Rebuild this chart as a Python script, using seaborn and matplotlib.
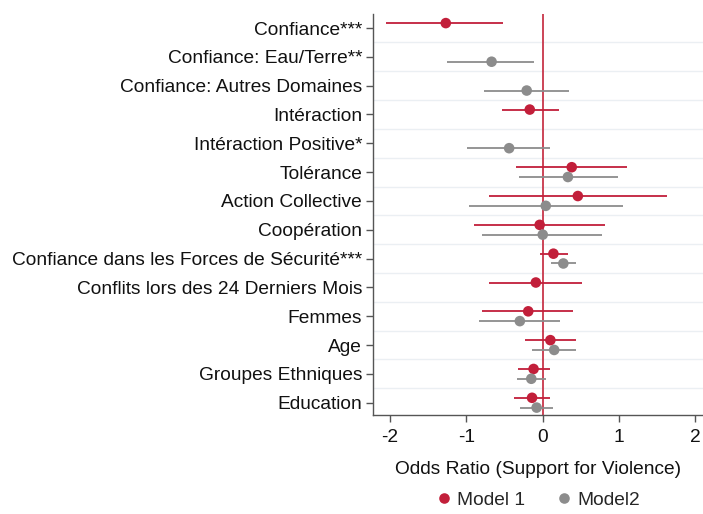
import numpy as np
import pandas as pd
import matplotlib
matplotlib.use("Agg")
import matplotlib.pyplot as plt
import seaborn as sns

# Data
variables = [
    "Confiance***",
    "Confiance: Eau/Terre**",
    "Confiance: Autres Domaines",
    "Intéraction",
    "Intéraction Positive*",
    "Tolérance",
    "Action Collective",
    "Coopération",
    "Confiance dans les Forces de Sécurité***",
    "Conflits lors des 24 Derniers Mois",
    "Femmes",
    "Age",
    "Groupes Ethniques",
    "Education",
]
nan = np.nan
m1_est = [-1.27, nan, nan, -0.17, nan, 0.38, 0.46, -0.04, 0.14, -0.09, -0.19, 0.10, -0.12, -0.14]
m1_lo = [-2.05, nan, nan, -0.54, nan, -0.35, -0.71, -0.90, -0.04, -0.70, -0.79, -0.23, -0.32, -0.38]
m1_hi = [-0.52, nan, nan, 0.21, nan, 1.10, 1.63, 0.82, 0.33, 0.51, 0.40, 0.43, 0.10, 0.10]
m2_est = [nan, -0.67, -0.21, nan, -0.44, 0.33, 0.04, 0.00, 0.27, nan, -0.30, 0.15, -0.15, -0.08]
m2_lo = [nan, -1.25, -0.77, nan, -0.99, -0.31, -0.97, -0.79, 0.11, nan, -0.84, -0.14, -0.34, -0.30]
m2_hi = [nan, -0.12, 0.34, nan, 0.10, 0.98, 1.05, 0.78, 0.43, nan, 0.22, 0.43, 0.04, 0.13]
models = ["Model 1", "Model2"]

red = "#C21F3A"
grey = "#8C8C8C"
palette = {"Model 1": red, "Model2": grey}
offsets = {"Model 1": -0.17, "Model2": 0.17}

rows = []
for model, est, lo, hi in [("Model 1", m1_est, m1_lo, m1_hi), ("Model2", m2_est, m2_lo, m2_hi)]:
    for i, v in enumerate(variables):
        rows.append({"model": model, "var": v, "pos": i + offsets[model],
                     "est": est[i], "lo": lo[i], "hi": hi[i]})
df = pd.DataFrame(rows).dropna()

sns.set_style("white")
plt.rcParams["font.family"] = ["Liberation Sans", "DejaVu Sans"]
fs = 13.8

fig = plt.figure(figsize=(7.03, 5.14), dpi=100)
ax = fig.add_axes([0.531, 0.193, 0.469, 0.780])

# light horizontal separators between rows
for y in np.arange(len(variables) - 1) + 0.5:
    ax.axhline(y, color="#EBEFF3", lw=1.0, zorder=0)

ax.axvline(0, color="#C8364A", lw=1.3, zorder=1)

for model in models:
    sub = df[df["model"] == model]
    ax.hlines(sub["pos"], sub["lo"], sub["hi"], color=palette[model], lw=1.3, zorder=2)

sns.scatterplot(data=df, x="est", y="pos", hue="model", palette=palette,
                hue_order=models, s=58, edgecolor="none", ax=ax, zorder=3)

ax.set_yticks(range(len(variables)))
ax.set_yticklabels(variables, fontsize=fs, color="#111111")
ax.set_ylim(len(variables) - 1 + 0.42, -0.49)
ax.set_xlim(-2.22, 2.1)
ax.set_xticks([-2, -1, 0, 1, 2])
ax.set_xticklabels(["-2", "-1", "0", "1", "2"], fontsize=fs, color="#111111")
ax.set_xlabel("Odds Ratio (Support for Violence)", fontsize=fs, color="#111111", labelpad=11)
ax.set_ylabel("")

ax.tick_params(axis="y", direction="out", length=5, width=1, color="#555555", left=True, pad=3)
ax.tick_params(axis="x", direction="out", length=5, width=1, color="#555555", bottom=True, pad=5)
for side in ["top", "right"]:
    ax.spines[side].set_visible(False)
for side in ["left", "bottom"]:
    ax.spines[side].set_color("#555555")
    ax.spines[side].set_linewidth(1.0)

handles, labels = ax.get_legend_handles_labels()
ax.legend(handles, labels, loc="center", bbox_to_anchor=(0.5, -0.212), ncol=2,
          frameon=False, fontsize=fs, handlelength=0.8, handletextpad=0.3,
          columnspacing=1.6, markerscale=1.0)

fig.savefig("out.png", dpi=100)
